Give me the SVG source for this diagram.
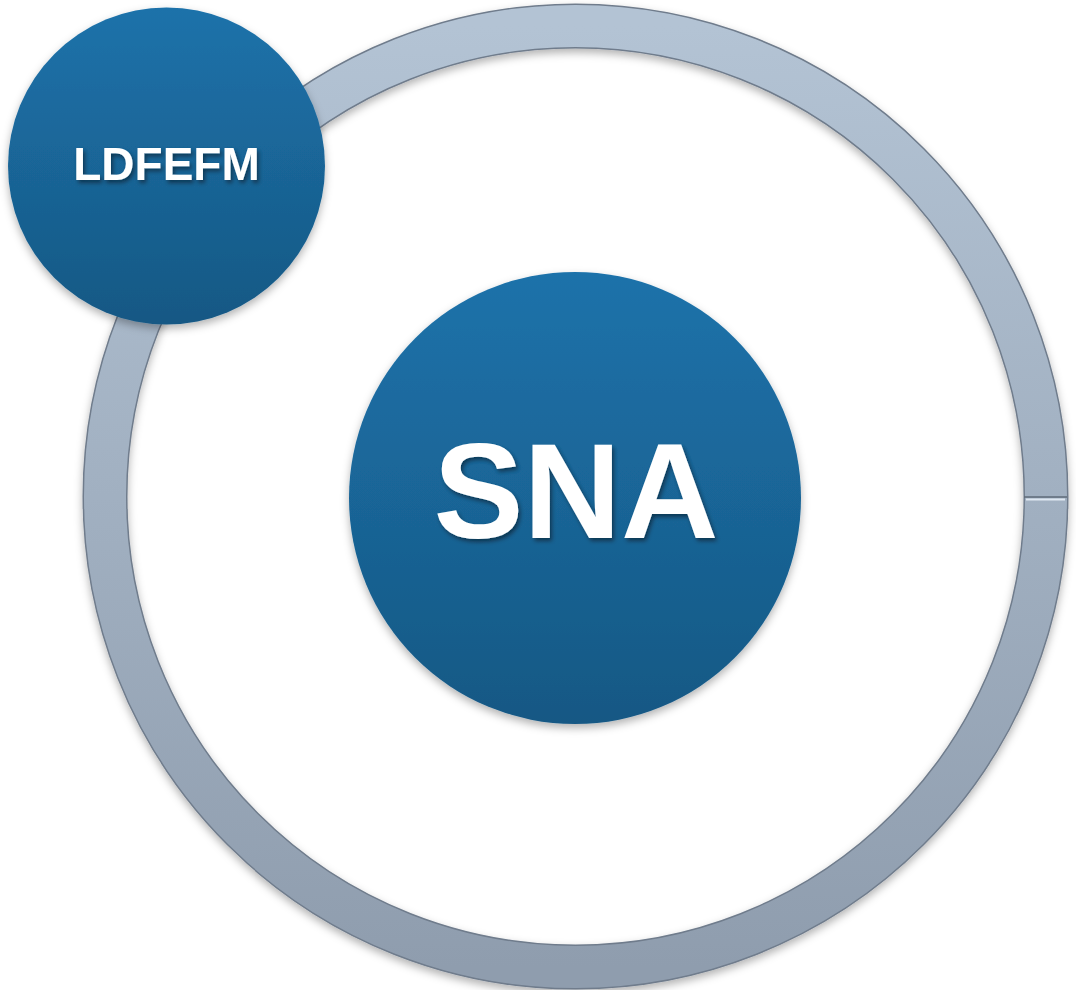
<svg xmlns="http://www.w3.org/2000/svg" width="1076" height="990" viewBox="0 0 1076 990">
<style>
.lbl{font-family:"Liberation Sans",Arial,sans-serif;font-weight:bold;fill:#ffffff;text-anchor:middle}
</style>
<defs>
<linearGradient id="blue" x1="0" y1="0" x2="0" y2="1">
<stop offset="0" stop-color="#1d72aa"/>
<stop offset="1" stop-color="#165884"/>
</linearGradient>
<linearGradient id="ringg" x1="0" y1="0" x2="0" y2="1">
<stop offset="0" stop-color="#b3c3d4"/>
<stop offset="1" stop-color="#8f9dae"/>
</linearGradient>
<filter id="sh" x="-10%" y="-10%" width="120%" height="125%">
<feDropShadow dx="0" dy="4" stdDeviation="4" flood-color="#000" flood-opacity="0.3"/>
</filter>
<filter id="tsh" x="-10%" y="-10%" width="120%" height="130%">
<feDropShadow dx="2" dy="3" stdDeviation="2" flood-color="#000" flood-opacity="0.45"/>
</filter>
</defs>
<rect width="1076" height="990" fill="#ffffff"/>
<g id="connectors">
<g id="ring" filter="url(#sh)">
<circle cx="575.5" cy="496.5" r="470.5" fill="none" stroke="#6f7c8c" stroke-width="45"/>
<circle cx="575.5" cy="496.5" r="470.5" fill="none" stroke="url(#ringg)" stroke-width="42"/>
</g>
<line x1="1024" y1="497" x2="1067" y2="497" stroke="#5f6b78" stroke-width="1.5"/>
<line x1="1026" y1="499.5" x2="1065" y2="499.5" stroke="#dfe8f2" stroke-width="2"/>
</g>
<g id="node-sna" filter="url(#sh)">
<circle cx="575" cy="498" r="226" fill="url(#blue)"/>
<text class="lbl" x="576" y="538" font-size="135" filter="url(#tsh)">SNA</text>
</g>
<g id="node-ldfefm" filter="url(#sh)">
<circle cx="166.5" cy="166" r="158.5" fill="url(#blue)"/>
<text class="lbl" x="166.5" y="180" font-size="46" filter="url(#tsh)">LDFEFM</text>
</g>
</svg>
